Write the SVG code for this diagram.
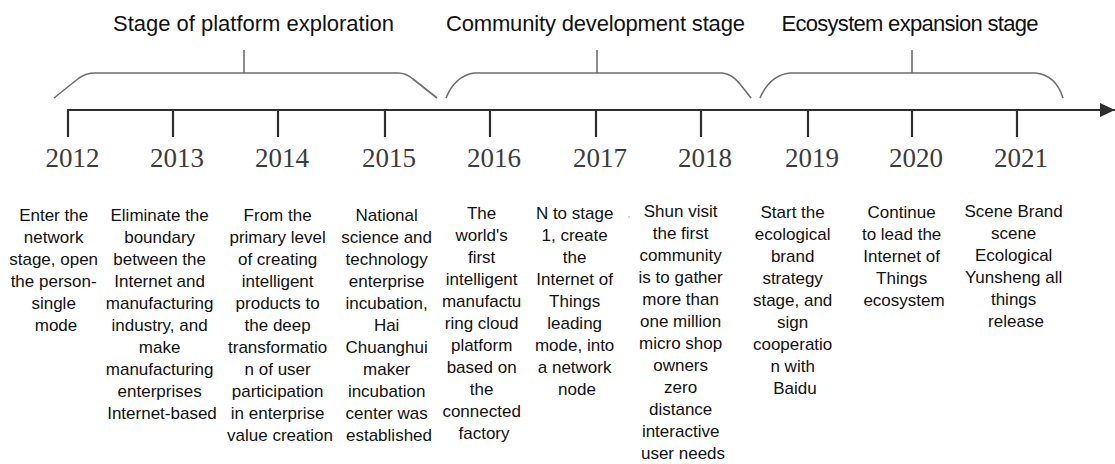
<svg xmlns="http://www.w3.org/2000/svg" width="1115" height="464" viewBox="0 0 1115 464">
  <style>
    .bracket { fill: none; stroke: #6e6e6e; stroke-width: 1.6; stroke-linejoin: round; }
    .axis { fill: none; stroke: #2e2e2e; stroke-width: 2.2; }
    .tick { stroke: #2e2e2e; stroke-width: 2.2; }
    .year { font-family: "Liberation Serif", "Times New Roman", serif; font-size: 27px; fill: #3c3c3c; text-anchor: middle; }
    .stage { font-family: "Liberation Sans", Arial, sans-serif; font-size: 22px; fill: #111; text-anchor: middle; }
    .desc { font-family: "Liberation Sans", Arial, sans-serif; font-size: 17px; fill: #111; text-anchor: middle; }
  </style>
  <defs>
    <marker id="arrowhead" markerWidth="16" markerHeight="16" refX="15" refY="7" orient="auto" markerUnits="userSpaceOnUse">
      <path d="M0,0 L15,7 L0,14 Z" fill="#2e2e2e"/>
    </marker>
  </defs>
  <rect width="1115" height="464" fill="#ffffff"/>

  <!-- stage titles with their braces -->
  <g id="stage-platform">
    <text class="stage" x="253.5" y="31" textLength="281">Stage of platform exploration</text>
    <path class="bracket" d="M54,98 L79,78 Q86,73 95,73 L398,73 Q406,73 413,79 L437,98"/>
    <line class="bracket" x1="244" y1="50" x2="244" y2="73"/>
  </g>
  <g id="stage-community">
    <text class="stage" x="595.5" y="31" textLength="299">Community development stage</text>
    <path class="bracket" d="M446,98 Q455,76 474,73 L722,73 Q732,74 740,84 L751,98"/>
    <line class="bracket" x1="597" y1="50" x2="597" y2="73"/>
  </g>
  <g id="stage-ecosystem">
    <text class="stage" x="910" y="31" textLength="257">Ecosystem expansion stage</text>
    <path class="bracket" d="M760,98 Q770,75 790,73 L1035,73 Q1056,75 1063,98"/>
    <line class="bracket" x1="912" y1="50" x2="912" y2="73"/>
  </g>

  <!-- time axis and year ticks -->
  <g id="connectors">
    <line class="axis" x1="68" y1="110" x2="1115" y2="110" marker-end="url(#arrowhead)"/>
    <line class="tick" x1="68" y1="109" x2="68" y2="137"/>
    <line class="tick" x1="173" y1="110" x2="173" y2="137"/>
    <line class="tick" x1="278" y1="110" x2="278" y2="137"/>
    <line class="tick" x1="385" y1="110" x2="385" y2="137"/>
    <line class="tick" x1="490" y1="110" x2="490" y2="137"/>
    <line class="tick" x1="596" y1="110" x2="596" y2="137"/>
    <line class="tick" x1="701" y1="110" x2="701" y2="137"/>
    <line class="tick" x1="808" y1="110" x2="808" y2="137"/>
    <line class="tick" x1="912" y1="110" x2="912" y2="137"/>
    <line class="tick" x1="1017" y1="110" x2="1017" y2="137"/>
  </g>

  <!-- years and milestone notes -->
  <g id="y2012">
    <text class="year" x="72.5" y="167">2012</text>
    <text class="desc" x="56" y="221">
      <tspan x="56" dy="0">Enter the</tspan>
      <tspan x="56" dy="22">network</tspan>
      <tspan x="56" dy="22">stage, open</tspan>
      <tspan x="56" dy="22">the person-</tspan>
      <tspan x="56" dy="22">single</tspan>
      <tspan x="56" dy="22">mode</tspan>
    </text>
  </g>
  <g id="y2013">
    <text class="year" x="177" y="167">2013</text>
    <text class="desc" x="162" y="221">
      <tspan x="162" dy="0">Eliminate the</tspan>
      <tspan x="162" dy="22">boundary</tspan>
      <tspan x="162" dy="22">between the</tspan>
      <tspan x="162" dy="22">Internet and</tspan>
      <tspan x="162" dy="22">manufacturing</tspan>
      <tspan x="162" dy="22">industry, and</tspan>
      <tspan x="162" dy="22">make</tspan>
      <tspan x="162" dy="22">manufacturing</tspan>
      <tspan x="162" dy="22">enterprises</tspan>
      <tspan x="162" dy="22">Internet-based</tspan>
    </text>
  </g>
  <g id="y2014">
    <text class="year" x="282" y="167">2014</text>
    <text class="desc" x="280" y="221">
      <tspan x="280" dy="0">From the</tspan>
      <tspan x="280" dy="22">primary level</tspan>
      <tspan x="280" dy="22">of creating</tspan>
      <tspan x="280" dy="22">intelligent</tspan>
      <tspan x="280" dy="22">products to</tspan>
      <tspan x="280" dy="22">the deep</tspan>
      <tspan x="280" dy="22">transformatio</tspan>
      <tspan x="280" dy="22">n of user</tspan>
      <tspan x="280" dy="22">participation</tspan>
      <tspan x="280" dy="22">in enterprise</tspan>
      <tspan x="280" dy="22">value creation</tspan>
    </text>
  </g>
  <g id="y2015">
    <text class="year" x="389" y="167">2015</text>
    <text class="desc" x="389" y="221">
      <tspan x="389" dy="0">National</tspan>
      <tspan x="389" dy="22">science and</tspan>
      <tspan x="389" dy="22">technology</tspan>
      <tspan x="389" dy="22">enterprise</tspan>
      <tspan x="389" dy="22">incubation,</tspan>
      <tspan x="389" dy="22">Hai</tspan>
      <tspan x="389" dy="22">Chuanghui</tspan>
      <tspan x="389" dy="22">maker</tspan>
      <tspan x="389" dy="22">incubation</tspan>
      <tspan x="389" dy="22">center was</tspan>
      <tspan x="389" dy="22">established</tspan>
    </text>
  </g>
  <g id="y2016">
    <text class="year" x="494" y="167">2016</text>
    <text class="desc" x="484" y="219">
      <tspan x="484" dy="0">The</tspan>
      <tspan x="484" dy="22">world's</tspan>
      <tspan x="484" dy="22">first</tspan>
      <tspan x="484" dy="22">intelligent</tspan>
      <tspan x="484" dy="22">manufactu</tspan>
      <tspan x="484" dy="22">ring cloud</tspan>
      <tspan x="484" dy="22">platform</tspan>
      <tspan x="484" dy="22">based on</tspan>
      <tspan x="484" dy="22">the</tspan>
      <tspan x="484" dy="22">connected</tspan>
      <tspan x="484" dy="22">factory</tspan>
    </text>
  </g>
  <g id="y2017">
    <text class="year" x="600" y="167">2017</text>
    <text class="desc" x="577" y="219">
      <tspan x="577" dy="0">N to stage</tspan>
      <tspan x="577" dy="22">1, create</tspan>
      <tspan x="577" dy="22">the</tspan>
      <tspan x="577" dy="22">Internet of</tspan>
      <tspan x="577" dy="22">Things</tspan>
      <tspan x="577" dy="22">leading</tspan>
      <tspan x="577" dy="22">mode, into</tspan>
      <tspan x="577" dy="22">a network</tspan>
      <tspan x="577" dy="22">node</tspan>
    </text>
  </g>
  <g id="y2018">
    <text class="year" x="705" y="167">2018</text>
    <circle cx="629" cy="217" r="1" fill="#c4c4c4"/>
    <text class="desc" x="683" y="217">
      <tspan x="683" dy="0">Shun visit</tspan>
      <tspan x="683" dy="22">the first</tspan>
      <tspan x="683" dy="22">community</tspan>
      <tspan x="683" dy="22">is to gather</tspan>
      <tspan x="683" dy="22">more than</tspan>
      <tspan x="683" dy="22">one million</tspan>
      <tspan x="683" dy="22">micro shop</tspan>
      <tspan x="683" dy="22">owners</tspan>
      <tspan x="683" dy="22">zero</tspan>
      <tspan x="683" dy="22">distance</tspan>
      <tspan x="683" dy="22">interactive</tspan>
      <tspan x="683" dy="22">user needs</tspan>
    </text>
  </g>
  <g id="y2019">
    <text class="year" x="812" y="167">2019</text>
    <text class="desc" x="795" y="218">
      <tspan x="795" dy="0">Start the</tspan>
      <tspan x="795" dy="22">ecological</tspan>
      <tspan x="795" dy="22">brand</tspan>
      <tspan x="795" dy="22">strategy</tspan>
      <tspan x="795" dy="22">stage, and</tspan>
      <tspan x="795" dy="22">sign</tspan>
      <tspan x="795" dy="22">cooperatio</tspan>
      <tspan x="795" dy="22">n with</tspan>
      <tspan x="795" dy="22">Baidu</tspan>
    </text>
  </g>
  <g id="y2020">
    <text class="year" x="916" y="167">2020</text>
    <text class="desc" x="904" y="218">
      <tspan x="904" dy="0">Continue</tspan>
      <tspan x="904" dy="22">to lead the</tspan>
      <tspan x="904" dy="22">Internet of</tspan>
      <tspan x="904" dy="22">Things</tspan>
      <tspan x="904" dy="22">ecosystem</tspan>
    </text>
  </g>
  <g id="y2021">
    <text class="year" x="1021" y="167">2021</text>
    <text class="desc" x="1016" y="217">
      <tspan x="1016" dy="0">Scene Brand</tspan>
      <tspan x="1016" dy="22">scene</tspan>
      <tspan x="1016" dy="22">Ecological</tspan>
      <tspan x="1016" dy="22">Yunsheng all</tspan>
      <tspan x="1016" dy="22">things</tspan>
      <tspan x="1016" dy="22">release</tspan>
    </text>
  </g>
</svg>
